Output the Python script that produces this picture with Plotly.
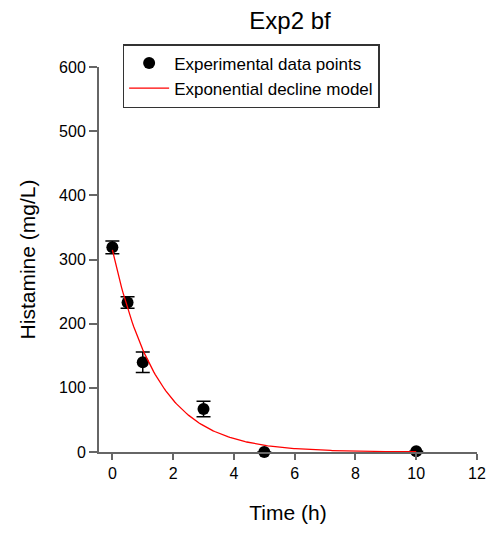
import numpy as np
import plotly.graph_objects as go

time_h = [0, 0.5, 1, 3, 5, 10]
histamine = [319, 233, 140, 67, 0, 1]
histamine_err = [10, 9, 16, 12, 0, 0]

# exponential decline model parameters
model_A = 315
model_k = 0.68
model_t = np.linspace(0, 10, 200)
model_y = model_A * np.exp(-model_k * model_t)

x_ticks = [0, 2, 4, 6, 8, 10, 12]
y_ticks = [0, 100, 200, 300, 400, 500, 600]

font = "Liberation Sans, Arial, sans-serif"
axis_col = "#666666"

fig = go.Figure()
fig.add_trace(go.Scatter(
    x=time_h, y=histamine, mode="markers", name="Experimental data points",
    marker=dict(color="black", size=12),
    error_y=dict(type="data", array=histamine_err, color="black", thickness=1.5, width=7),
    cliponaxis=False,
))
fig.add_trace(go.Scatter(
    x=model_t, y=model_y, mode="lines", name="Exponential decline model",
    line=dict(color="red", width=1.3),
))

fig.update_layout(
    width=498, height=533,
    margin=dict(l=99, r=15, t=67, b=80),
    paper_bgcolor="white", plot_bgcolor="white",
    font=dict(family=font, size=16, color="black"),
    title=dict(text="Exp2 bf", x=290 / 498, xanchor="center", y=1 - 21 / 533, yanchor="middle",
               font=dict(size=24, family=font)),
    showlegend=True,
    legend=dict(x=0.0625, y=1.0596, xanchor="left", yanchor="top",
                bordercolor="#333333", borderwidth=1.5, bgcolor="white",
                font=dict(size=17, family=font), tracegroupgap=0,
                itemwidth=40),
    xaxis=dict(range=[-0.44, 12], tickvals=x_ticks, ticks="outside", ticklen=6,
               tickcolor=axis_col, tickwidth=1.5, showline=True, linecolor=axis_col, linewidth=2,
               showgrid=False, zeroline=False,
               title=dict(text="Time (h)", font=dict(size=21), standoff=24),
               tickfont=dict(size=16)),
    yaxis=dict(range=[0, 600], tickvals=y_ticks, ticks="outside", ticklen=8,
               tickcolor=axis_col, tickwidth=1.5, showline=True, linecolor=axis_col, linewidth=2,
               showgrid=False, zeroline=False,
               title=dict(text="Histamine (mg/L)", font=dict(size=21), standoff=18),
               tickfont=dict(size=16)),
)

fig.write_html("out.html")
